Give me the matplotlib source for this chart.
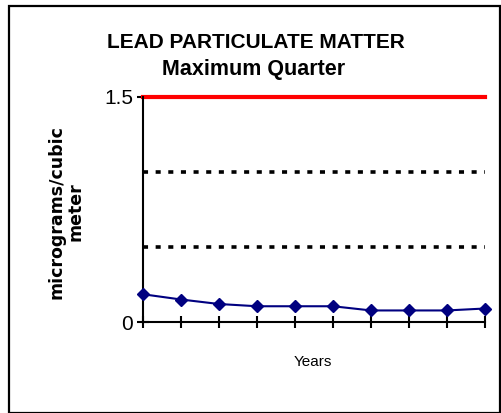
import matplotlib
matplotlib.use("Agg")
import matplotlib.pyplot as plt
from matplotlib.patches import Rectangle

years_idx = list(range(10))
lead_values = [0.185, 0.15, 0.12, 0.105, 0.105, 0.105, 0.077, 0.077, 0.077, 0.09]
standard_line = 1.5
reference_lines = [1.0, 0.5]
ytick_vals = [0, 1.5]
ytick_labels = ["0", "1.5"]

W, H = 501, 413
fig = plt.figure(figsize=(W / 100, H / 100), dpi=100)
fig.patch.set_facecolor("white")

# outer border
fig.patches.append(Rectangle((8.5 / W, 0.5 / H), (500 - 8.5) / W, (407 - 0.5) / H,
                             transform=fig.transFigure, fill=False,
                             edgecolor="black", linewidth=1.6))

ax = fig.add_axes([143 / W, 1 - 322 / H, (485 - 143) / W, (322 - 97) / H])
ax.set_xlim(0, 9)
ax.set_ylim(0, 1.5)

ax.axhline(standard_line, color="#FF0000", linewidth=3, zorder=2, clip_on=False)
for v in reference_lines:
    ax.axhline(v, color="black", linewidth=2.6, linestyle=(0, (1.4, 2.1)), zorder=2)

ax.plot(years_idx, lead_values, color="#000080", linewidth=1.5, marker="D",
        markersize=6.6, markerfacecolor="#000080", markeredgecolor="#000080",
        zorder=3, clip_on=False)

for s in ["top", "right"]:
    ax.spines[s].set_visible(False)
for s in ["left", "bottom"]:
    ax.spines[s].set_linewidth(1.5)
    ax.spines[s].set_color("black")

ax.set_xticks(years_idx)
ax.set_xticklabels([])
ax.tick_params(axis="x", direction="inout", length=9, width=1.5, color="black")
ax.set_yticks(ytick_vals)
ax.set_yticklabels(ytick_labels, fontsize=15, family="Liberation Sans")
ax.tick_params(axis="y", direction="inout", length=8, width=1.5, pad=3, color="black")

fig.text(256 / W, 1 - 42 / H, "LEAD PARTICULATE MATTER", ha="center", va="center",
         fontsize=15, fontweight="bold", family="Liberation Sans")
fig.text(254 / W, 1 - 70 / H, "Maximum Quarter", ha="center", va="center",
         fontsize=15.5, fontweight="bold", family="Liberation Sans")
fig.text(313 / W, 1 - 362 / H, "Years", ha="center", va="center",
         fontsize=11, family="Liberation Sans")
fig.text(66 / W, 1 - 212 / H, "micrograms/cubic\nmeter", ha="center", va="center",
         rotation=90, fontsize=12.5, fontweight="heavy", family="DejaVu Sans",
         multialignment="center", linespacing=1.1)

fig.savefig("out.png", dpi=100, facecolor="white")
